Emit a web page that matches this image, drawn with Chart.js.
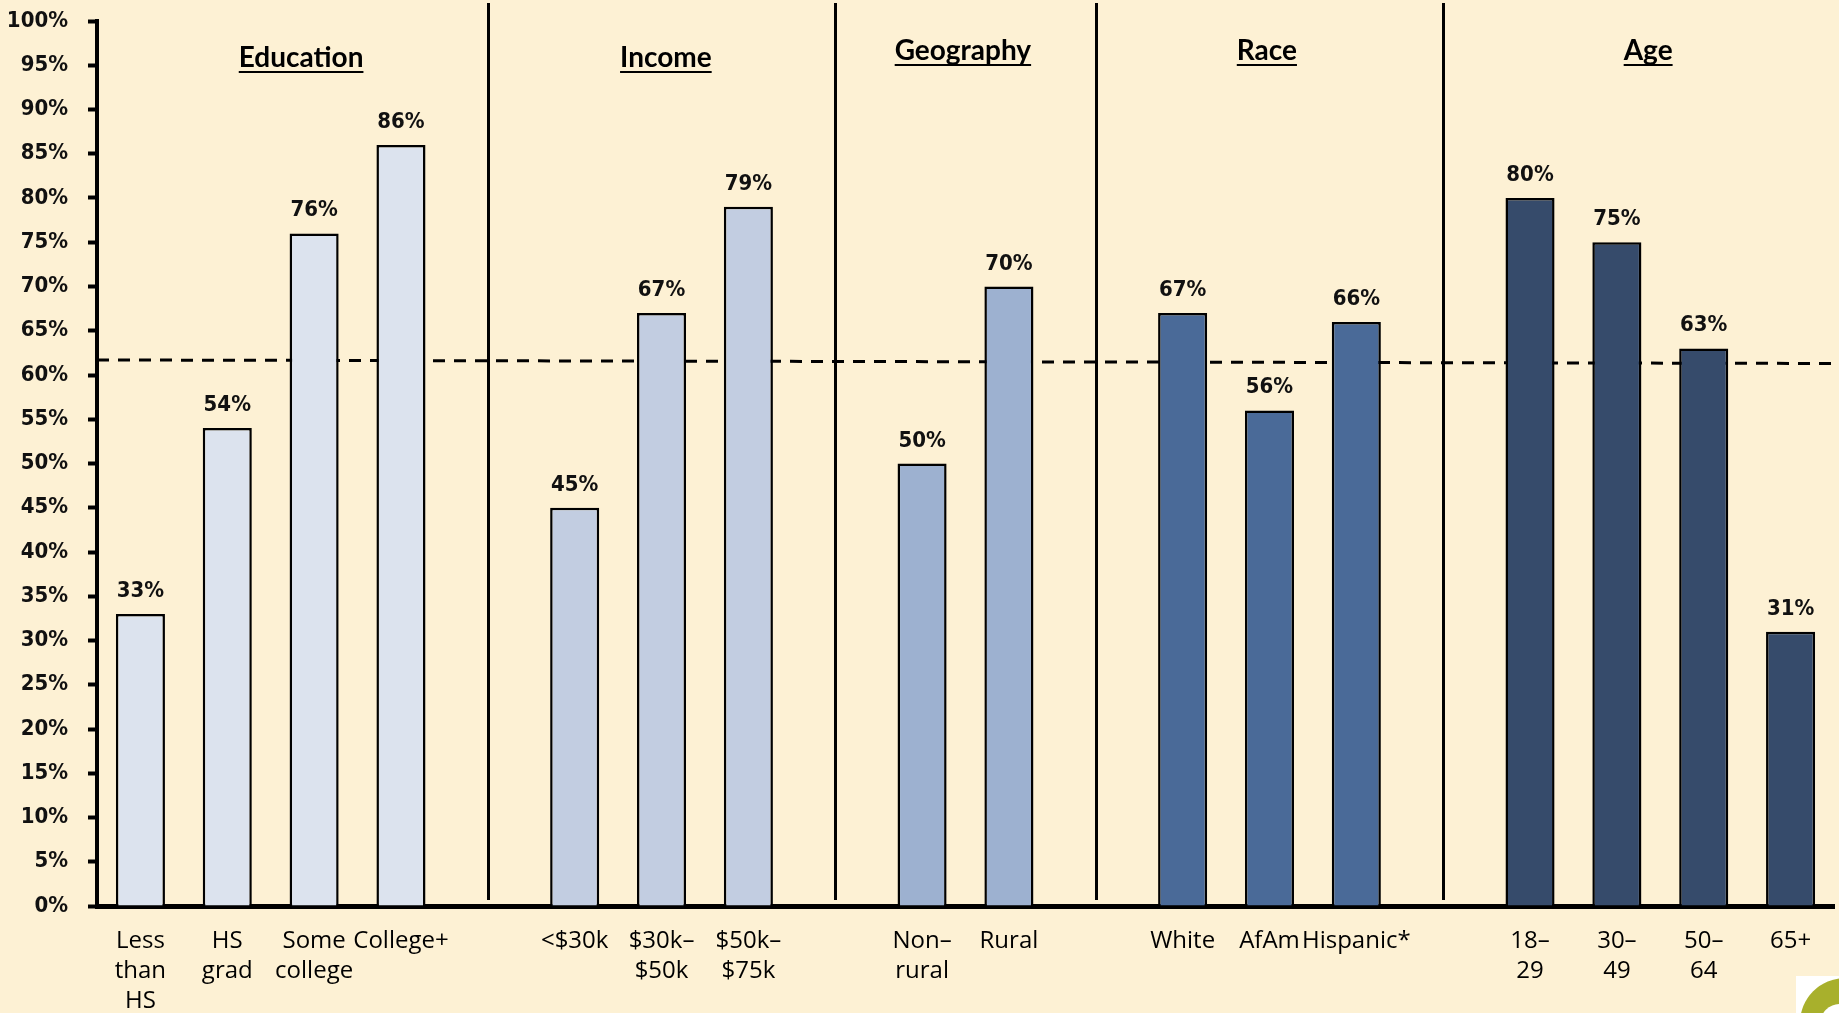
<!DOCTYPE html>
<html>
<head>
<meta charset="utf-8">
<script src="https://cdn.jsdelivr.net/npm/chart.js@4.4.1/dist/chart.umd.min.js"></script>
<style>
  html, body { margin: 0; padding: 0; background: #fdf1d4; overflow: hidden; }
  #wrap { position: relative; width: 1839px; height: 1013px; }
  #logo { position: absolute; left: 1796px; top: 976px; width: 43px; height: 37px; background: #fff; overflow: hidden; }
  #logo div { position: absolute; left: 4px; top: 2px; width: 90px; height: 90px; border-radius: 50%; background: #a8b02c; }
  #logo span { position: absolute; left: 24px; top: 28px; width: 40px; height: 40px; border-radius: 50%; background: #fff; }
</style>
</head>
<body>
<div id="wrap">
  <canvas id="barChart" width="1839" height="1013"></canvas>
  <div id="logo"><div></div><span></span></div>
</div>
<script>
(function () {
    "use strict";

    // groups, in order left to right
    var groupNames = ["Education", "Income", "Geography", "Race", "Age"];
    var groupCats = [
        [["Less", "than", "HS"], ["HS", "grad"], ["Some", "college"], "College+"],
        ["<$30k", ["$30k\u2013", "$50k"], ["$50k\u2013", "$75k"]],
        [["Non\u2013", "rural"], "Rural"],
        ["White", "AfAm", "Hispanic*"],
        [["18\u2013", "29"], ["30\u2013", "49"], ["50\u2013", "64"], "65+"]
    ];
    var groupVals = [
        [33, 54, 76, 86],
        [45, 67, 79],
        [50, 70],
        [67, 56, 66],
        [80, 75, 63, 31]
    ];
    var groupColors = ["#dce3ee", "#c2cde1", "#9db1d0", "#4a6a98", "#364b6b"];
    // where each group title sits, in category slots
    var titleSlots = [1.85, 6.05, 9.47, 12.97, 17.36];
    var titleRaise = [0, 0, 7, 7, 7];

    // dashed overall line (left end, right end)
    var overallLine = [61.7, 61.3];

    var yTicks = [0, 5, 10, 15, 20, 25, 30, 35, 40, 45, 50, 55, 60, 65, 70, 75, 80, 85, 90, 95, 100];

    // build flat arrays, one empty slot between groups for the divider
    var labels = [], values = [], colors = [], dividers = [];
    groupCats.forEach(function (cats, g) {
        if (g > 0) {
            dividers.push(labels.length);
            labels.push("");
            values.push(null);
            colors.push("rgba(0,0,0,0)");
        }
        cats.forEach(function (c, i) {
            labels.push(c);
            values.push(groupVals[g][i]);
            colors.push(groupColors[g]);
        });
    });

    var numFont = "bold 22px 'DejaVu Sans Condensed', 'DejaVu Sans', sans-serif";

    var extras = {
        id: "extras",
        beforeDatasetsDraw: function (chart) {
            var ctx = chart.ctx, ys = chart.scales.y, area = chart.chartArea;
            // overall dashed line, behind the bars
            ctx.save();
            ctx.strokeStyle = "#000";
            ctx.setLineDash([12, 9]);
            ctx.lineWidth = 3;
            ctx.beginPath();
            ctx.moveTo(area.left, ys.getPixelForValue(overallLine[0]));
            ctx.lineTo(chart.width, ys.getPixelForValue(overallLine[1]));
            ctx.stroke();
            ctx.restore();
        },
        afterDatasetsDraw: function (chart) {
            var ctx = chart.ctx, xs = chart.scales.x, area = chart.chartArea;
            ctx.save();

            // dividers between groups
            ctx.strokeStyle = "#000";
            ctx.lineWidth = 3;
            dividers.forEach(function (d) {
                var x = Math.round(xs.getPixelForValue(d)) + 0.5;
                ctx.beginPath();
                ctx.moveTo(x, 3);
                ctx.lineTo(x, area.bottom - 6);
                ctx.stroke();
            });

            // value labels
            ctx.fillStyle = "#111";
            ctx.font = numFont;
            ctx.textAlign = "center";
            ctx.textBaseline = "alphabetic";
            var meta = chart.getDatasetMeta(0);
            meta.data.forEach(function (bar, i) {
                if (values[i] === null) return;
                ctx.fillText(values[i] + "%", bar.x, bar.y - 17);
            });

            // group titles
            ctx.font = "bold 28px Lato, sans-serif";
            ctx.fillStyle = "#000";
            groupNames.forEach(function (name, g) {
                var x = xs.getPixelForValue(0) + titleSlots[g] * (xs.getPixelForValue(1) - xs.getPixelForValue(0));
                var y = 67 - titleRaise[g];
                ctx.fillText(name, x, y);
                var w = ctx.measureText(name).width;
                ctx.fillRect(x - w / 2, y + 4, w, 2);
            });
            ctx.restore();
        }
    };

    var ctx = document.getElementById("barChart");
    var myChart = new Chart(ctx, {
        type: "bar",
        data: {
            labels: labels,
            datasets: [{
                data: values,
                backgroundColor: colors,
                borderColor: "#000",
                borderWidth: 2.5,
                barPercentage: 0.565,
                categoryPercentage: 1
            }]
        },
        options: {
            responsive: false,
            animation: false,
            layout: { padding: { top: 21, right: 5, left: 0, bottom: 0 } },
            plugins: {
                legend: { display: false },
                tooltip: { enabled: false }
            },
            scales: {
                x: {
                    grid: { display: false, drawTicks: false },
                    border: { display: true, color: "#000", width: 5 },
                    ticks: {
                        color: "#000",
                        padding: 20,
                        maxRotation: 0,
                        autoSkip: false,
                        font: { family: "'Open Sans', sans-serif", size: 24, lineHeight: 1.25 }
                    },
                    afterFit: function (s) { s.height = 107; }
                },
                y: {
                    min: 0,
                    max: 100,
                    afterBuildTicks: function (s) {
                        s.ticks = yTicks.map(function (v) { return { value: v }; });
                    },
                    grid: {
                        drawOnChartArea: false,
                        drawTicks: true,
                        tickLength: 9,
                        tickWidth: 4,
                        tickColor: "#000"
                    },
                    border: { display: true, color: "#000", width: 4 },
                    ticks: {
                        color: "#111",
                        padding: 20,
                        font: { family: "'DejaVu Sans Condensed', 'DejaVu Sans', sans-serif", size: 22, weight: "bold" },
                        callback: function (v) { return v + "%"; }
                    },
                    afterFit: function (s) {
                        s.width = 97;
                        s.paddingTop = 0;
                        s.paddingBottom = 0;
                    }
                }
            }
        },
        plugins: [extras]
    });
})();
</script>
</body>
</html>
